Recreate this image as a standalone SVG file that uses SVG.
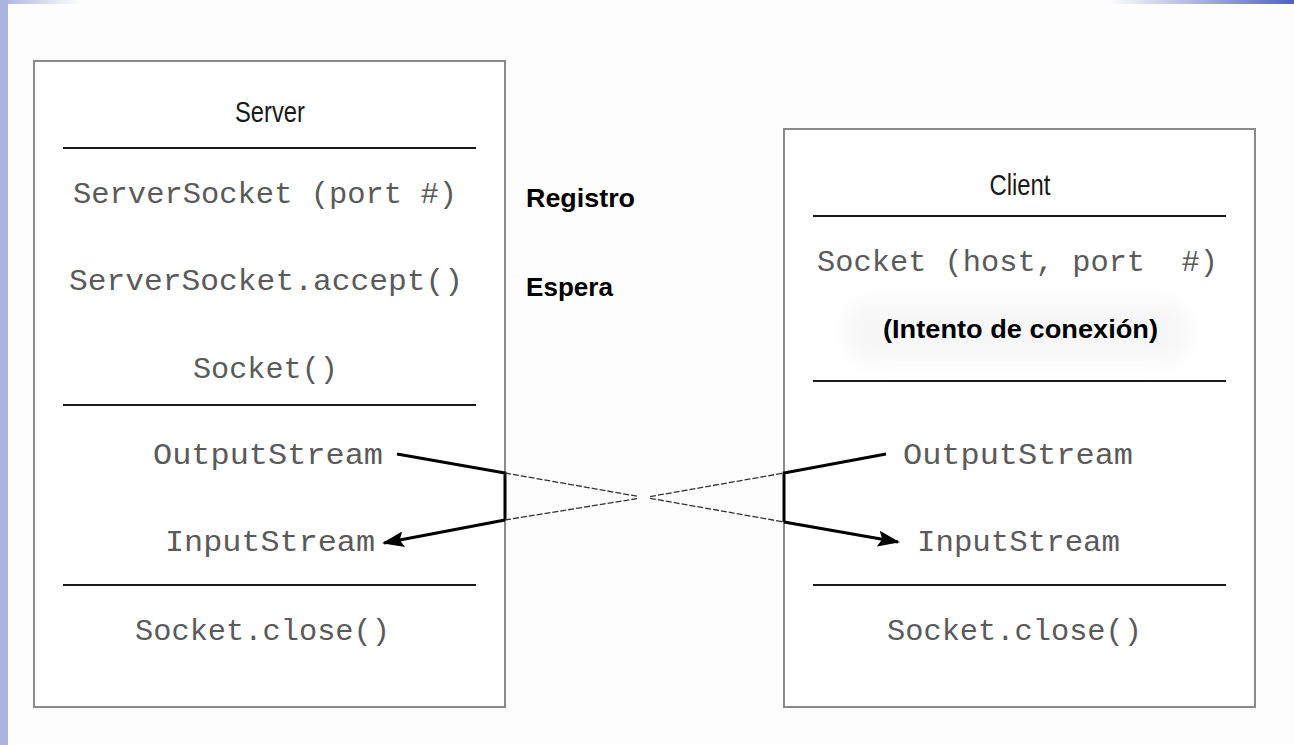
<svg xmlns="http://www.w3.org/2000/svg" width="1294" height="745" viewBox="0 0 1294 745">
<defs>
<style>
.box{fill:#ffffff;stroke:#8a8a8a;stroke-width:2}
.div{stroke:#1a1a1a;stroke-width:2}
.mono{font-family:"Liberation Mono","Courier New",monospace;font-size:29px;fill:#5a5a5a;text-anchor:middle}
.title{font-family:"Liberation Sans",Arial,sans-serif;font-size:29px;fill:#1a1a1a;text-anchor:middle}
.bold{font-family:"Liberation Sans",Arial,sans-serif;font-weight:bold;fill:#000}
.thick{fill:none;stroke:#000;stroke-width:3}
.dash{fill:none;stroke:#333;stroke-width:1.3;stroke-dasharray:6 2}
</style>
<linearGradient id="gl" x1="0" y1="0" x2="1" y2="0">
<stop offset="0" stop-color="#aab3e0"/><stop offset="1" stop-color="#aab3e0" stop-opacity="0"/>
</linearGradient>
<linearGradient id="gr" x1="0" y1="0" x2="1" y2="0">
<stop offset="0" stop-color="#5060c8" stop-opacity="0"/><stop offset="1" stop-color="#5060c8"/>
</linearGradient>
<marker id="ah" markerWidth="22" markerHeight="16" refX="20" refY="8" orient="auto" markerUnits="userSpaceOnUse">
<path d="M0,0 L22,8 L0,16 L4,8 Z" fill="#000"/>
</marker>
<filter id="blur" x="-20%" y="-50%" width="140%" height="200%"><feGaussianBlur stdDeviation="10"/></filter>
</defs>
<rect x="0" y="0" width="1294" height="745" fill="#fdfdfd"/>
<rect x="0" y="0" width="8" height="745" fill="#aab3e0"/>
<rect x="0" y="0" width="80" height="4" fill="url(#gl)"/>
<rect x="1110" y="0" width="184" height="4" fill="url(#gr)"/>

<g id="server">
<rect class="box" x="34" y="61" width="471" height="646"/>
<text class="title" x="270" y="122" textLength="70" lengthAdjust="spacingAndGlyphs">Server</text>
<line class="div" x1="63" y1="148" x2="476" y2="148"/>
<text class="mono" x="265" y="203" textLength="384" lengthAdjust="spacingAndGlyphs">ServerSocket (port #)</text>
<text class="mono" x="266" y="290" textLength="394" lengthAdjust="spacingAndGlyphs">ServerSocket.accept()</text>
<text class="mono" x="265.5" y="378" textLength="145" lengthAdjust="spacingAndGlyphs">Socket()</text>
<line class="div" x1="63" y1="405" x2="476" y2="405"/>
<text class="mono" x="268" y="464" textLength="230" lengthAdjust="spacingAndGlyphs">OutputStream</text>
<text class="mono" x="270" y="551" textLength="210" lengthAdjust="spacingAndGlyphs">InputStream</text>
<line class="div" x1="63" y1="585" x2="476" y2="585"/>
<text class="mono" x="262.5" y="640" textLength="255" lengthAdjust="spacingAndGlyphs">Socket.close()</text>
</g>

<g id="labels">
<text class="bold" x="526" y="207" font-size="25" textLength="109" lengthAdjust="spacingAndGlyphs">Registro</text>
<text class="bold" x="526" y="296" font-size="25" textLength="87" lengthAdjust="spacingAndGlyphs">Espera</text>
</g>

<g id="client">
<rect class="box" x="784" y="129" width="471" height="578"/>
<text class="title" x="1020" y="195" textLength="61" lengthAdjust="spacingAndGlyphs">Client</text>
<line class="div" x1="813" y1="216" x2="1226" y2="216"/>
<text class="mono" x="1017.5" y="271" textLength="401" lengthAdjust="spacingAndGlyphs" xml:space="preserve">Socket (host, port  #)</text>
<rect x="845" y="300" width="345" height="62" rx="28" fill="#f2f2f2" opacity="0.6" filter="url(#blur)"/>
<text class="bold" x="1020.5" y="338" font-size="25" text-anchor="middle" textLength="275" lengthAdjust="spacingAndGlyphs">(Intento de conexión)</text>
<line class="div" x1="813" y1="381" x2="1226" y2="381"/>
<text class="mono" x="1018" y="464" textLength="230" lengthAdjust="spacingAndGlyphs">OutputStream</text>
<text class="mono" x="1018.5" y="551" textLength="203" lengthAdjust="spacingAndGlyphs">InputStream</text>
<line class="div" x1="813" y1="585" x2="1226" y2="585"/>
<text class="mono" x="1014.5" y="640" textLength="255" lengthAdjust="spacingAndGlyphs">Socket.close()</text>
</g>

<g id="connectors">
<polyline class="thick" points="397,454 505,473 505,520"/>
<line class="thick" x1="505" y1="520" x2="384" y2="543" marker-end="url(#ah)"/>
<polyline class="thick" points="886,454 784,473 784,522"/>
<line class="thick" x1="784" y1="522" x2="898" y2="542" marker-end="url(#ah)"/>
<line class="dash" x1="505" y1="473" x2="637" y2="496.2"/>
<line class="dash" x1="505" y1="520" x2="637" y2="498.6"/>
<line class="dash" x1="650" y1="498.3" x2="784" y2="522"/>
<line class="dash" x1="650" y1="496.6" x2="784" y2="473"/>
</g>
</svg>
